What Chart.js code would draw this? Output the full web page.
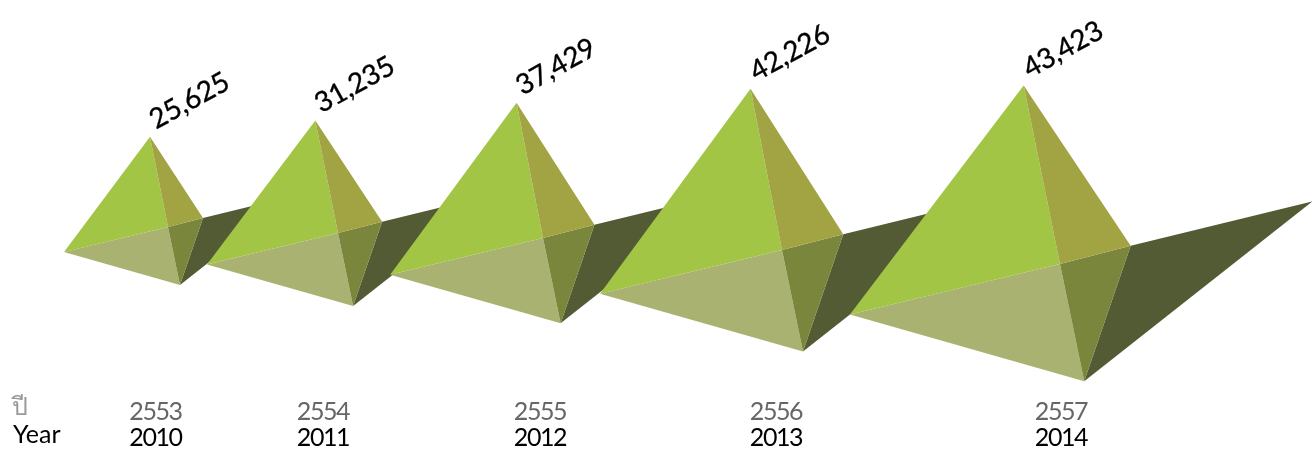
<!DOCTYPE html>
<html>
<head>
<meta charset="utf-8">
<title>Yearly totals</title>
<script src="https://cdn.jsdelivr.net/npm/chart.js@4"></script>
<style>
  html, body { margin: 0; padding: 0; background: #fff; }
  canvas { display: block; }
</style>
</head>
<body>
<canvas id="pyramids" width="1312" height="449"></canvas>
<script>
const yearsThai = ['2553', '2554', '2555', '2556', '2557'];
const yearsIntl = ['2010', '2011', '2012', '2013', '2014'];
const totals = [25625, 31235, 37429, 42226, 43423];

// where each pyramid sits along the strip, and how wide its footprint is
const slots = {
  labelX: [155.5, 323, 540, 776, 1061],
  baseX: [168, 338, 543, 782, 1060],
  baseY: [227, 233, 238, 250, 264],
  spread: [1, 1.26, 1.47, 1.75, 2.02],
};

// footprint corners around the base centre, for spread = 1
const foot = {
  left: [-104, 25],
  front: [12, 58],
  right: [35, -9],
  shadow: [125, -31],
  apexX: -18,
};

const colors = {
  litFace: '#a2c546',
  sideFace: '#a2a343',
  lowerLeft: '#a9b271',
  lowerRight: '#79863b',
  shadow: '#535b35',
};

const W = 1312;
const H = 449;
const yMax = 73100;
const yMin = -82900;

// the y axis runs in value units, so footprint offsets need converting
const unitsPerPx = (yMax - yMin) / H;
const levelAt = (px) => yMax - px * unitsPerPx;

const apexOf = (i) => ({ x: slots.baseX[i] + foot.apexX * slots.spread[i], y: totals[i] });

const cornerOf = (i, name) => {
  const [dx, dy] = foot[name];
  return {
    x: slots.baseX[i] + dx * slots.spread[i],
    y: levelAt(slots.baseY[i] + dy * slots.spread[i]),
  };
};

const centreOf = (i) => ({ x: slots.baseX[i], y: levelAt(slots.baseY[i]) });

const face = (points, color) => ({
  data: points,
  showLine: true,
  fill: 'shape',
  backgroundColor: color,
  borderWidth: 0,
  pointRadius: 0,
  tension: 0,
});

const buildFaces = () => {
  const faces = [];
  totals.forEach((_, i) => {
    const c = centreOf(i);
    const a = apexOf(i);
    const l = cornerOf(i, 'left');
    const f = cornerOf(i, 'front');
    const r = cornerOf(i, 'right');
    faces.push(face([r, cornerOf(i, 'shadow'), f], colors.shadow));
    faces.push(face([l, f, c], colors.lowerLeft));
    faces.push(face([c, f, r], colors.lowerRight));
    faces.push(face([a, l, c], colors.litFace));
    faces.push(face([a, c, r], colors.sideFace));
  });
  // chart.js paints the first dataset last
  return faces.reverse();
};

const textFont = 'Lato, "Noto Sans", sans-serif';

const labelsPlugin = {
  id: 'pyramidLabels',
  afterDraw: (chart) => {
    const { ctx, scales } = chart;
    ctx.save();

    ctx.textAlign = 'left';
    ctx.textBaseline = 'alphabetic';
    ctx.fillStyle = '#000';
    ctx.strokeStyle = '#000';
    ctx.lineWidth = 0.35;
    ctx.font = '28px ' + textFont;
    ctx.letterSpacing = '-0.2px';
    totals.forEach((v, i) => {
      const a = apexOf(i);
      const text = v.toLocaleString('en-US');
      ctx.save();
      ctx.translate(scales.x.getPixelForValue(a.x) + 6, scales.y.getPixelForValue(a.y) - 7);
      ctx.rotate(-29 * Math.PI / 180);
      ctx.fillText(text, 0, 0);
      ctx.strokeText(text, 0, 0);
      ctx.restore();
    });

    ctx.textAlign = 'center';
    ctx.font = '25px ' + textFont;
    ctx.letterSpacing = '-1.4px';
    slots.labelX.forEach((x, i) => {
      const px = scales.x.getPixelForValue(x);
      ctx.fillStyle = '#666';
      ctx.fillText(yearsThai[i], px, 420);
      ctx.fillStyle = '#000';
      ctx.fillText(yearsIntl[i], px, 446);
    });

    ctx.textAlign = 'left';
    ctx.letterSpacing = '0px';
    ctx.fillStyle = '#999';
    ctx.fillText('ปี', 12, 415);
    ctx.fillStyle = '#000';
    ctx.fillText('Year', 13, 443);
    ctx.restore();
  },
};

new Chart(document.getElementById('pyramids'), {
  type: 'scatter',
  data: { datasets: buildFaces() },
  options: {
    responsive: false,
    animation: false,
    events: [],
    layout: { padding: 0 },
    plugins: {
      legend: { display: false },
      tooltip: { enabled: false },
    },
    scales: {
      x: { type: 'linear', display: false, min: 0, max: W },
      y: { type: 'linear', display: false, min: yMin, max: yMax },
    },
  },
  plugins: [labelsPlugin],
});
</script>
</body>
</html>
